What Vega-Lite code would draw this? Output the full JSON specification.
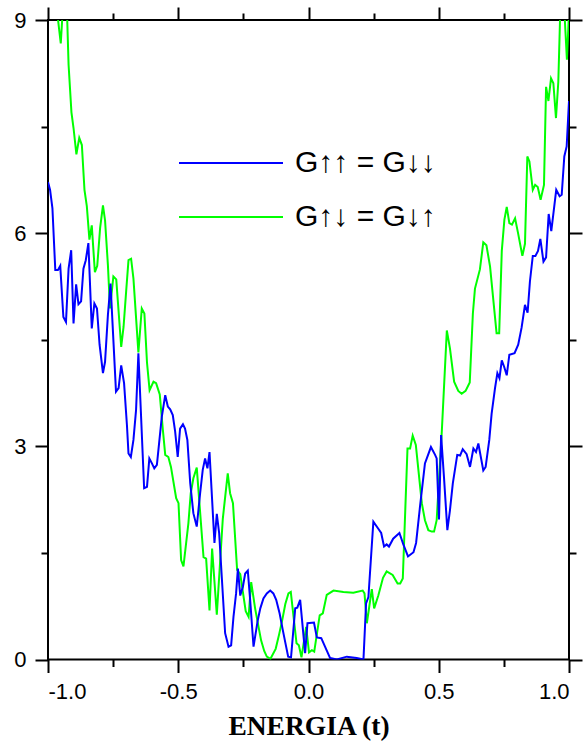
{
 "$schema": "https://vega.github.io/schema/vega-lite/v6.json",
 "width": 521,
 "height": 639.5,
 "autosize": {"type": "none"},
 "padding": {"left": 48, "top": 20, "right": 16, "bottom": 86},
 "config": {
  "view": {"stroke": "black", "strokeWidth": 2},
  "axis": {"grid": false, "domain": false, "tickColor": "black", "tickWidth": 2, "labelFont": "Liberation Sans", "labelFontSize": 22, "labelColor": "black"}
 },
 "data": {"values": [
{"s":"g","x":-1.0,"y":10.2},{"s":"g","x":-0.963,"y":9.05},{"s":"g","x":-0.951,"y":8.67},{"s":"g","x":-0.944,"y":9.1},{"s":"g","x":-0.927,"y":9.1},{"s":"g","x":-0.921,"y":8.37},{"s":"g","x":-0.910,"y":7.70},{"s":"g","x":-0.902,"y":7.48},{"s":"g","x":-0.891,"y":7.11},{"s":"g","x":-0.880,"y":7.34},{"s":"g","x":-0.870,"y":7.24},{"s":"g","x":-0.860,"y":6.61},{"s":"g","x":-0.851,"y":6.38},{"s":"g","x":-0.841,"y":5.91},{"s":"g","x":-0.832,"y":6.11},{"s":"g","x":-0.820,"y":5.45},{"s":"g","x":-0.811,"y":5.54},{"s":"g","x":-0.800,"y":6.07},{"s":"g","x":-0.789,"y":6.39},{"s":"g","x":-0.781,"y":6.18},{"s":"g","x":-0.770,"y":5.55},{"s":"g","x":-0.762,"y":4.94},{"s":"g","x":-0.749,"y":5.39},{"s":"g","x":-0.738,"y":5.35},{"s":"g","x":-0.719,"y":4.40},{"s":"g","x":-0.710,"y":4.68},{"s":"g","x":-0.700,"y":5.18},{"s":"g","x":-0.691,"y":5.62},{"s":"g","x":-0.681,"y":5.64},{"s":"g","x":-0.672,"y":5.36},{"s":"g","x":-0.653,"y":4.32},{"s":"g","x":-0.640,"y":4.94},{"s":"g","x":-0.630,"y":4.87},{"s":"g","x":-0.620,"y":4.18},{"s":"g","x":-0.610,"y":3.79},{"s":"g","x":-0.595,"y":3.91},{"s":"g","x":-0.585,"y":3.89},{"s":"g","x":-0.571,"y":3.73},{"s":"g","x":-0.559,"y":3.23},{"s":"g","x":-0.550,"y":2.88},{"s":"g","x":-0.538,"y":2.85},{"s":"g","x":-0.528,"y":2.71},{"s":"g","x":-0.508,"y":2.27},{"s":"g","x":-0.499,"y":2.20},{"s":"g","x":-0.489,"y":1.40},{"s":"g","x":-0.480,"y":1.31},{"s":"g","x":-0.461,"y":1.92},{"s":"g","x":-0.452,"y":2.34},{"s":"g","x":-0.442,"y":2.55},{"s":"g","x":-0.429,"y":2.70},{"s":"g","x":-0.403,"y":1.44},{"s":"g","x":-0.393,"y":1.42},{"s":"g","x":-0.380,"y":0.69},{"s":"g","x":-0.370,"y":1.56},{"s":"g","x":-0.352,"y":0.63},{"s":"g","x":-0.329,"y":1.98},{"s":"g","x":-0.310,"y":2.62},{"s":"g","x":-0.301,"y":2.34},{"s":"g","x":-0.290,"y":2.20},{"s":"g","x":-0.274,"y":1.26},{"s":"g","x":-0.262,"y":1.20},{"s":"g","x":-0.241,"y":0.68},{"s":"g","x":-0.230,"y":0.60},{"s":"g","x":-0.220,"y":1.09},{"s":"g","x":-0.205,"y":0.72},{"s":"g","x":-0.182,"y":0.27},{"s":"g","x":-0.170,"y":0.12},{"s":"g","x":-0.160,"y":0.04},{"s":"g","x":-0.146,"y":0.01},{"s":"g","x":-0.126,"y":0.15},{"s":"g","x":-0.113,"y":0.35},{"s":"g","x":-0.101,"y":0.55},{"s":"g","x":-0.089,"y":0.78},{"s":"g","x":-0.077,"y":0.93},{"s":"g","x":-0.068,"y":0.95},{"s":"g","x":-0.046,"y":0.23},{"s":"g","x":-0.037,"y":0.20},{"s":"g","x":-0.027,"y":0.03},{"s":"g","x":-0.009,"y":0.46},{"s":"g","x":0.002,"y":0.10},{"s":"g","x":0.013,"y":0.13},{"s":"g","x":0.022,"y":0.11},{"s":"g","x":0.043,"y":0.62},{"s":"g","x":0.055,"y":0.65},{"s":"g","x":0.070,"y":0.91},{"s":"g","x":0.096,"y":0.97},{"s":"g","x":0.134,"y":0.95},{"s":"g","x":0.172,"y":0.94},{"s":"g","x":0.208,"y":0.97},{"s":"g","x":0.215,"y":0.93},{"s":"g","x":0.224,"y":0.51},{"s":"g","x":0.243,"y":0.99},{"s":"g","x":0.252,"y":0.72},{"s":"g","x":0.268,"y":0.90},{"s":"g","x":0.286,"y":1.15},{"s":"g","x":0.300,"y":1.24},{"s":"g","x":0.323,"y":1.19},{"s":"g","x":0.342,"y":1.07},{"s":"g","x":0.352,"y":1.07},{"s":"g","x":0.362,"y":1.14},{"s":"g","x":0.380,"y":2.97},{"s":"g","x":0.390,"y":2.97},{"s":"g","x":0.400,"y":3.15},{"s":"g","x":0.412,"y":3.02},{"s":"g","x":0.435,"y":2.20},{"s":"g","x":0.447,"y":1.96},{"s":"g","x":0.460,"y":1.82},{"s":"g","x":0.473,"y":1.80},{"s":"g","x":0.482,"y":1.80},{"s":"g","x":0.492,"y":1.96},{"s":"g","x":0.512,"y":3.23},{"s":"g","x":0.531,"y":4.63},{"s":"g","x":0.543,"y":4.38},{"s":"g","x":0.559,"y":3.91},{"s":"g","x":0.575,"y":3.78},{"s":"g","x":0.588,"y":3.74},{"s":"g","x":0.603,"y":3.78},{"s":"g","x":0.619,"y":3.90},{"s":"g","x":0.631,"y":4.87},{"s":"g","x":0.639,"y":5.22},{"s":"g","x":0.658,"y":5.49},{"s":"g","x":0.671,"y":5.87},{"s":"g","x":0.683,"y":5.83},{"s":"g","x":0.697,"y":5.53},{"s":"g","x":0.722,"y":4.59},{"s":"g","x":0.732,"y":4.59},{"s":"g","x":0.742,"y":5.75},{"s":"g","x":0.752,"y":6.19},{"s":"g","x":0.761,"y":6.37},{"s":"g","x":0.771,"y":6.14},{"s":"g","x":0.781,"y":6.12},{"s":"g","x":0.793,"y":6.21},{"s":"g","x":0.805,"y":5.99},{"s":"g","x":0.821,"y":5.68},{"s":"g","x":0.831,"y":5.85},{"s":"g","x":0.840,"y":7.08},{"s":"g","x":0.848,"y":7.01},{"s":"g","x":0.861,"y":6.61},{"s":"g","x":0.870,"y":6.68},{"s":"g","x":0.880,"y":6.65},{"s":"g","x":0.891,"y":6.47},{"s":"g","x":0.904,"y":6.68},{"s":"g","x":0.912,"y":8.06},{"s":"g","x":0.921,"y":7.86},{"s":"g","x":0.931,"y":8.18},{"s":"g","x":0.940,"y":8.11},{"s":"g","x":0.950,"y":7.62},{"s":"g","x":0.959,"y":8.13},{"s":"g","x":0.967,"y":9.2},{"s":"g","x":0.977,"y":9.2},{"s":"g","x":0.984,"y":9.0},{"s":"g","x":0.992,"y":8.44},{"s":"g","x":1.0,"y":9.1},
{"s":"b","x":-1.0,"y":6.72},{"s":"b","x":-0.992,"y":6.61},{"s":"b","x":-0.983,"y":6.35},{"s":"b","x":-0.972,"y":5.48},{"s":"b","x":-0.962,"y":5.48},{"s":"b","x":-0.953,"y":5.54},{"s":"b","x":-0.941,"y":4.82},{"s":"b","x":-0.931,"y":4.75},{"s":"b","x":-0.921,"y":5.50},{"s":"b","x":-0.911,"y":5.76},{"s":"b","x":-0.902,"y":4.73},{"s":"b","x":-0.892,"y":5.28},{"s":"b","x":-0.883,"y":5.00},{"s":"b","x":-0.873,"y":5.04},{"s":"b","x":-0.864,"y":5.50},{"s":"b","x":-0.855,"y":5.62},{"s":"b","x":-0.845,"y":5.86},{"s":"b","x":-0.832,"y":4.66},{"s":"b","x":-0.822,"y":5.01},{"s":"b","x":-0.812,"y":4.94},{"s":"b","x":-0.802,"y":4.43},{"s":"b","x":-0.789,"y":4.03},{"s":"b","x":-0.781,"y":4.19},{"s":"b","x":-0.770,"y":4.85},{"s":"b","x":-0.760,"y":5.29},{"s":"b","x":-0.739,"y":3.77},{"s":"b","x":-0.729,"y":3.82},{"s":"b","x":-0.719,"y":4.14},{"s":"b","x":-0.708,"y":3.89},{"s":"b","x":-0.697,"y":3.30},{"s":"b","x":-0.691,"y":2.90},{"s":"b","x":-0.682,"y":2.85},{"s":"b","x":-0.672,"y":3.09},{"s":"b","x":-0.662,"y":3.51},{"s":"b","x":-0.653,"y":4.31},{"s":"b","x":-0.631,"y":2.41},{"s":"b","x":-0.620,"y":2.43},{"s":"b","x":-0.611,"y":2.83},{"s":"b","x":-0.601,"y":2.76},{"s":"b","x":-0.592,"y":2.69},{"s":"b","x":-0.582,"y":2.74},{"s":"b","x":-0.563,"y":3.42},{"s":"b","x":-0.550,"y":3.72},{"s":"b","x":-0.540,"y":3.56},{"s":"b","x":-0.531,"y":3.52},{"s":"b","x":-0.521,"y":3.44},{"s":"b","x":-0.512,"y":3.21},{"s":"b","x":-0.502,"y":2.85},{"s":"b","x":-0.493,"y":3.25},{"s":"b","x":-0.482,"y":3.31},{"s":"b","x":-0.474,"y":3.25},{"s":"b","x":-0.465,"y":3.09},{"s":"b","x":-0.454,"y":2.48},{"s":"b","x":-0.442,"y":2.06},{"s":"b","x":-0.429,"y":1.87},{"s":"b","x":-0.416,"y":2.34},{"s":"b","x":-0.406,"y":2.67},{"s":"b","x":-0.397,"y":2.83},{"s":"b","x":-0.388,"y":2.69},{"s":"b","x":-0.380,"y":2.92},{"s":"b","x":-0.361,"y":1.64},{"s":"b","x":-0.352,"y":2.05},{"s":"b","x":-0.343,"y":1.78},{"s":"b","x":-0.320,"y":0.37},{"s":"b","x":-0.307,"y":0.18},{"s":"b","x":-0.297,"y":0.20},{"s":"b","x":-0.288,"y":0.60},{"s":"b","x":-0.278,"y":0.93},{"s":"b","x":-0.271,"y":1.28},{"s":"b","x":-0.262,"y":0.90},{"s":"b","x":-0.252,"y":1.02},{"s":"b","x":-0.243,"y":1.21},{"s":"b","x":-0.233,"y":1.25},{"s":"b","x":-0.224,"y":0.84},{"s":"b","x":-0.211,"y":0.18},{"s":"b","x":-0.195,"y":0.55},{"s":"b","x":-0.185,"y":0.72},{"s":"b","x":-0.173,"y":0.86},{"s":"b","x":-0.160,"y":0.93},{"s":"b","x":-0.147,"y":0.97},{"s":"b","x":-0.135,"y":0.93},{"s":"b","x":-0.124,"y":0.84},{"s":"b","x":-0.111,"y":0.65},{"s":"b","x":-0.099,"y":0.42},{"s":"b","x":-0.088,"y":0.22},{"s":"b","x":-0.078,"y":0.04},{"s":"b","x":-0.067,"y":0.03},{"s":"b","x":-0.051,"y":0.72},{"s":"b","x":-0.043,"y":0.73},{"s":"b","x":-0.032,"y":0.84},{"s":"b","x":-0.013,"y":0.09},{"s":"b","x":-0.004,"y":0.51},{"s":"b","x":0.021,"y":0.52},{"s":"b","x":0.032,"y":0.31},{"s":"b","x":0.049,"y":0.30},{"s":"b","x":0.083,"y":0.02},{"s":"b","x":0.109,"y":0.0},{"s":"b","x":0.147,"y":0.04},{"s":"b","x":0.185,"y":0.02},{"s":"b","x":0.211,"y":0.0},{"s":"b","x":0.221,"y":0.79},{"s":"b","x":0.230,"y":0.88},{"s":"b","x":0.249,"y":1.94},{"s":"b","x":0.268,"y":1.84},{"s":"b","x":0.279,"y":1.78},{"s":"b","x":0.290,"y":1.59},{"s":"b","x":0.300,"y":1.62},{"s":"b","x":0.309,"y":1.59},{"s":"b","x":0.325,"y":1.70},{"s":"b","x":0.349,"y":1.78},{"s":"b","x":0.364,"y":1.62},{"s":"b","x":0.382,"y":1.45},{"s":"b","x":0.403,"y":1.51},{"s":"b","x":0.413,"y":1.64},{"s":"b","x":0.428,"y":2.15},{"s":"b","x":0.447,"y":2.76},{"s":"b","x":0.470,"y":2.99},{"s":"b","x":0.486,"y":2.88},{"s":"b","x":0.492,"y":2.83},{"s":"b","x":0.501,"y":1.97},{"s":"b","x":0.509,"y":3.16},{"s":"b","x":0.520,"y":2.57},{"s":"b","x":0.533,"y":1.82},{"s":"b","x":0.543,"y":2.10},{"s":"b","x":0.554,"y":2.48},{"s":"b","x":0.571,"y":2.88},{"s":"b","x":0.582,"y":2.87},{"s":"b","x":0.592,"y":2.96},{"s":"b","x":0.607,"y":2.89},{"s":"b","x":0.620,"y":2.71},{"s":"b","x":0.633,"y":2.97},{"s":"b","x":0.643,"y":2.92},{"s":"b","x":0.652,"y":3.04},{"s":"b","x":0.671,"y":2.66},{"s":"b","x":0.680,"y":2.71},{"s":"b","x":0.694,"y":3.09},{"s":"b","x":0.703,"y":3.46},{"s":"b","x":0.716,"y":3.82},{"s":"b","x":0.725,"y":4.03},{"s":"b","x":0.733,"y":3.96},{"s":"b","x":0.742,"y":4.21},{"s":"b","x":0.751,"y":4.12},{"s":"b","x":0.761,"y":4.00},{"s":"b","x":0.771,"y":4.29},{"s":"b","x":0.791,"y":4.31},{"s":"b","x":0.805,"y":4.43},{"s":"b","x":0.818,"y":4.67},{"s":"b","x":0.831,"y":4.99},{"s":"b","x":0.841,"y":4.88},{"s":"b","x":0.850,"y":5.32},{"s":"b","x":0.861,"y":5.68},{"s":"b","x":0.871,"y":5.68},{"s":"b","x":0.881,"y":5.75},{"s":"b","x":0.890,"y":5.92},{"s":"b","x":0.902,"y":5.60},{"s":"b","x":0.912,"y":5.66},{"s":"b","x":0.922,"y":6.27},{"s":"b","x":0.932,"y":6.03},{"s":"b","x":0.951,"y":6.61},{"s":"b","x":0.964,"y":6.52},{"s":"b","x":0.972,"y":6.54},{"s":"b","x":0.982,"y":7.08},{"s":"b","x":0.991,"y":7.22},{"s":"b","x":1.0,"y":7.86}
 ]},
 "layer": [
  {
   "transform": [{"filter": "datum.s == 'g'"}],
   "mark": {"type": "line", "strokeWidth": 2, "clip": true},
   "encoding": {
    "x": {"field": "x", "type": "quantitative", "scale": {"domain": [-1, 1], "nice": false},
          "axis": {"orient": "bottom", "values": [-0.75, -0.25, 0.25, 0.75], "tickSize": 7, "labels": false, "title": null}},
    "y": {"field": "y", "type": "quantitative", "scale": {"domain": [0, 9], "nice": false, "zero": false},
          "axis": {"orient": "left", "values": [1.5, 4.5, 7.5], "tickSize": 7, "labels": false, "title": null}},
    "color": {"field": "s", "type": "nominal", "scale": {"domain": ["b", "g"], "range": ["#0000ff", "#00ff00"]},
              "legend": {"orient": "none", "legendX": 130, "legendY": 128, "title": null, "symbolType": "stroke", "symbolSize": 10816, "symbolStrokeWidth": 2, "clipHeight": 30, "rowPadding": 24, "padding": 0, "labelFont": "'Liberation Sans', 'DejaVu Sans'", "labelFontSize": 30, "labelColor": "black", "labelOffset": 11, "labelLimit": 400,
                         "labelExpr": "datum.value == 'b' ? 'G↑↑ = G↓↓' : 'G↑↓ = G↓↑'"}}
   }
  },
  {
   "transform": [{"filter": "datum.s == 'b'"}],
   "mark": {"type": "line", "strokeWidth": 2, "clip": true},
   "encoding": {
    "x": {"field": "x", "type": "quantitative", "scale": {"domain": [-1, 1], "nice": false},
          "axis": {"orient": "bottom", "values": [-1, -0.5, 0, 0.5, 1], "tickSize": 13, "labelPadding": 9,
                   "labelExpr": "datum.value < 0 ? '-' + format(-datum.value, '.1f') : format(datum.value, '.1f')",
                   "title": "ENERGIA (t)", "titleFont": "Liberation Serif", "titleFontWeight": "bold", "titleFontSize": 27.5, "titleColor": "black", "titlePadding": 10}},
    "y": {"field": "y", "type": "quantitative", "scale": {"domain": [0, 9], "nice": false, "zero": false},
          "axis": {"orient": "left", "values": [0, 3, 6, 9], "tickSize": 13, "labelPadding": 9, "format": "d", "title": null}},
    "color": {"field": "s", "type": "nominal", "scale": {"domain": ["b", "g"], "range": ["#0000ff", "#00ff00"]},
              "legend": {"orient": "none", "legendX": 130, "legendY": 128, "title": null, "symbolType": "stroke", "symbolSize": 10816, "symbolStrokeWidth": 2, "clipHeight": 30, "rowPadding": 24, "padding": 0, "labelFont": "'Liberation Sans', 'DejaVu Sans'", "labelFontSize": 30, "labelColor": "black", "labelOffset": 11, "labelLimit": 400,
                         "labelExpr": "datum.value == 'b' ? 'G↑↑ = G↓↓' : 'G↑↓ = G↓↑'"}}
   }
  },
  {
   "mark": {"type": "line", "opacity": 0},
   "encoding": {
    "x": {"field": "x", "type": "quantitative", "scale": {"domain": [-1, 1], "nice": false},
          "axis": {"orient": "top", "values": [-1, -0.5, 0, 0.5, 1], "tickSize": 13, "labels": false, "title": null}},
    "y": {"field": "y", "type": "quantitative", "scale": {"domain": [0, 9], "nice": false, "zero": false},
          "axis": {"orient": "right", "values": [0, 3, 6, 9], "tickSize": 13, "labels": false, "title": null}},
    "detail": {"field": "s"}
   }
  },
  {
   "mark": {"type": "line", "opacity": 0},
   "encoding": {
    "x": {"field": "x", "type": "quantitative", "scale": {"domain": [-1, 1], "nice": false},
          "axis": {"orient": "top", "values": [-0.75, -0.25, 0.25, 0.75], "tickSize": 7, "labels": false, "title": null}},
    "y": {"field": "y", "type": "quantitative", "scale": {"domain": [0, 9], "nice": false, "zero": false},
          "axis": {"orient": "right", "values": [1.5, 4.5, 7.5], "tickSize": 7, "labels": false, "title": null}},
    "detail": {"field": "s"}
   }
  }
 ],
 "resolve": {"axis": {"x": "independent", "y": "independent"}}
}
